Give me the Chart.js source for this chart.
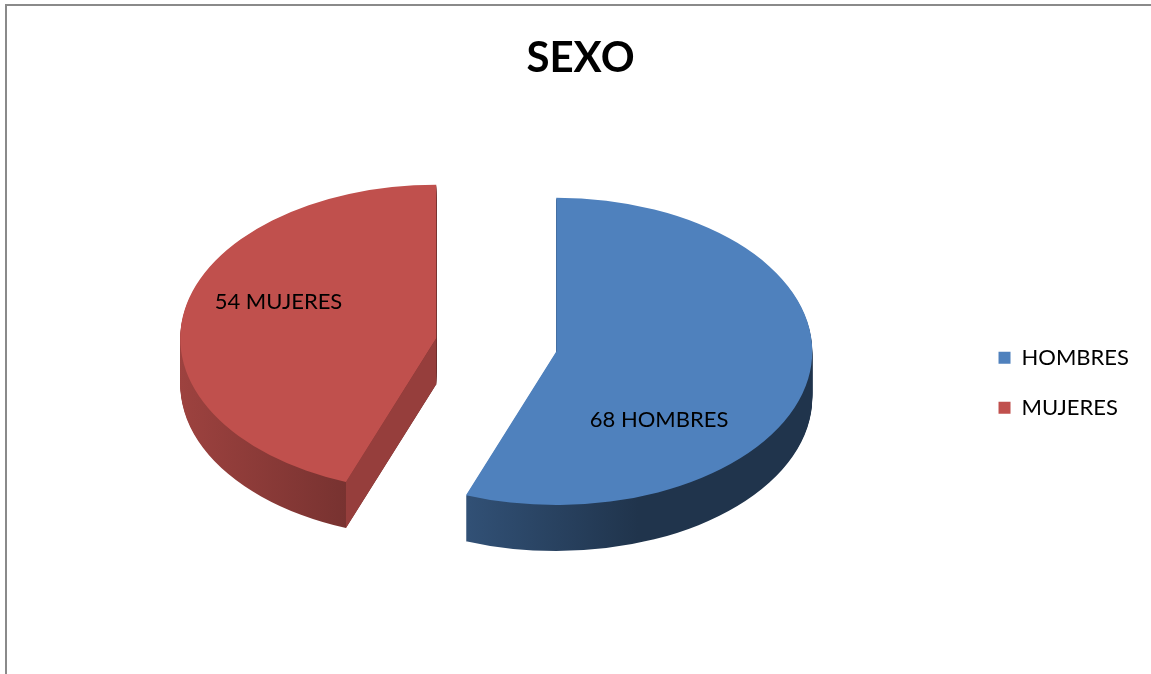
<!DOCTYPE html>
<html>
<head>
<meta charset="utf-8">
<script src="https://cdn.jsdelivr.net/npm/chart.js@4.4.1/dist/chart.umd.min.js"></script>
<style>
  html, body { margin: 0; padding: 0; background: #fff; }
  #marco { position: absolute; left: 5px; top: 4px; width: 1200px; height: 700px; border-top: 2px solid #8a8a8a; border-left: 2px solid #8a8a8a; }
  #caja { position: absolute; left: 0; top: 0; width: 1151px; height: 674px; }
</style>
</head>
<body>
<div id="marco"></div>
<div id="caja"><canvas id="grafico-sexo"></canvas></div>
<script>
const _categorias = ['HOMBRES', 'MUJERES'];
const _valores = [68, 54];
const _colores = ['#4f81bd', '#c0504d'];

// oscurece un color hex por un factor
const sombra = (hex, f) => {
	const n = parseInt(hex.slice(1), 16);
	return `rgb(${Math.round(((n >> 16) & 255) * f)},${Math.round(((n >> 8) & 255) * f)},${Math.round((n & 255) * f)})`;
};

// pastel "3D": caras laterales apiladas + tapa achatada, porciones separadas
const pastel3d = {
	id: 'pastel3d',
	centro(arc, o) {
		const mid = (arc.startAngle + arc.endAngle) / 2;
		return {cx: arc.x + Math.cos(mid) * o.separacion, cy: arc.y + Math.sin(mid) * o.separacion * o.inclinacion};
	},
	beforeDatasetsDraw(chart, args, o) {
		const ctx = chart.ctx;
		const k = o.inclinacion;
		chart.getDatasetMeta(0).data.forEach((arc, i) => {
			const {startAngle, endAngle, outerRadius: r} = arc;
			const {cx, cy} = this.centro(arc, o);
			const base = _colores[i];

			const grad = ctx.createLinearGradient(-r, 0, r, 0);
			grad.addColorStop(0, sombra(base, 0.82));
			grad.addColorStop(0.33, sombra(base, 0.62));
			grad.addColorStop(0.66, sombra(base, 0.40));
			grad.addColorStop(1, sombra(base, 0.40));
			for (let d = o.grosor; d > 0; d--) {
				ctx.save();
				ctx.translate(cx, cy + d);
				ctx.scale(1, k);
				ctx.beginPath();
				ctx.moveTo(0, 0);
				ctx.arc(0, 0, r, startAngle, endAngle);
				ctx.closePath();
				ctx.fillStyle = grad;
				ctx.fill();
				ctx.restore();
			}

			// caras de corte que miran hacia el frente
			[[startAngle, startAngle - Math.PI / 2], [endAngle, endAngle + Math.PI / 2]].forEach(([a, n]) => {
				if (Math.sin(n) < 0.05) return;
				const px = cx + Math.cos(a) * r, py = cy + Math.sin(a) * r * k;
				ctx.beginPath();
				ctx.moveTo(cx, cy);
				ctx.lineTo(px, py);
				ctx.lineTo(px, py + o.grosor);
				ctx.lineTo(cx, cy + o.grosor);
				ctx.closePath();
				ctx.fillStyle = sombra(base, 0.78);
				ctx.fill();
			});

			ctx.save();
			ctx.translate(cx, cy);
			ctx.scale(1, k);
			ctx.translate(-arc.x, -arc.y);
			arc.draw(ctx);
			ctx.restore();
		});
		return false;
	},
	afterDraw(chart, args, o) {
		const ctx = chart.ctx;
		ctx.save();
		ctx.font = '22px Lato';
		ctx.fillStyle = '#000';
		ctx.textAlign = 'center';
		ctx.textBaseline = 'middle';
		chart.getDatasetMeta(0).data.forEach((arc, i) => {
			const {cx, cy} = this.centro(arc, o);
			const p = o.etiquetas[i];
			const a = p.angulo * Math.PI / 180;
			ctx.fillText(`${_valores[i]} ${_categorias[i]}`, cx + Math.cos(a) * arc.outerRadius * p.dist, cy + Math.sin(a) * arc.outerRadius * p.dist * o.inclinacion);
		});
		ctx.restore();
	}
};

const config = {
	type: 'pie',
	data: {labels: _categorias, datasets: [{data: _valores, backgroundColor: _colores, borderWidth: 0}]},
	options: {
		responsive: true,
		maintainAspectRatio: false,
		animation: false,
		radius: 256,
		layout: {padding: {left: 22, right: 12, top: 0, bottom: 75}},
		plugins: {
			tooltip: {enabled: false},
			title: {display: true, text: 'SEXO', color: '#000', font: {family: 'Lato', size: 42, weight: 'bold'}, padding: {top: 33, bottom: 7.4}},
			legend: {
				position: 'right',
				title: {display: true, text: '', font: {size: 12}, padding: {top: 152, bottom: 0}},
				labels: {boxWidth: 12, boxHeight: 12, padding: 28, color: '#000', font: {family: 'Lato', size: 22}}
			},
			pastel3d: {
				separacion: 61,
				inclinacion: 0.6,
				grosor: 46,
				etiquetas: [{angulo: 48, dist: 0.6}, {angulo: 201, dist: 0.66}]
			}
		}
	},
	plugins: [pastel3d]
};

const graficoSexo = new Chart(document.getElementById('grafico-sexo'), config);
</script>
</body>
</html>
